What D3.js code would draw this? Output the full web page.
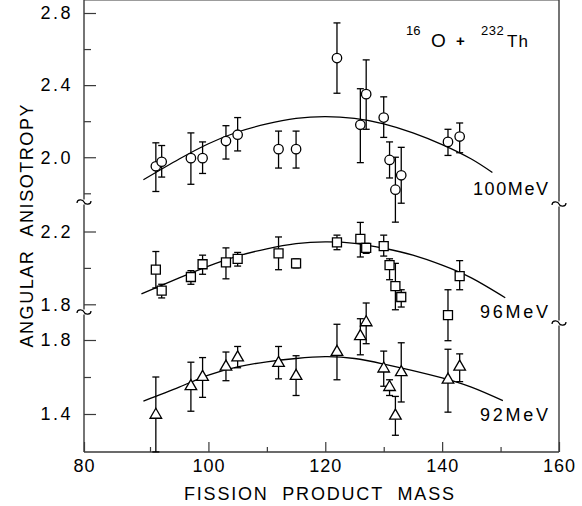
<!DOCTYPE html>
<html>
<head>
<meta charset="utf-8">
<script src="https://cdn.jsdelivr.net/npm/d3@7"></script>
<style>
body { margin: 0; background: #fff; }
text { font-family: "Liberation Sans", Arial, sans-serif; fill: #000; }
</style>
</head>
<body>
<script>
var w = 582, h = 506;

// x ticks
var xMajor = [80, 100, 120, 140, 160];
var xMinor = [90, 110, 130, 150];

// 100 MeV (circles)
var mass100 = [91, 92, 97, 99, 103, 105, 112, 115, 122, 126, 127, 130, 131, 132, 133, 141, 143];
var val100 = [1.95, 1.975, 1.995, 1.995, 2.09, 2.125, 2.045, 2.045, 2.55, 2.18, 2.35, 2.22, 1.985, 1.82, 1.90, 2.085, 2.115];
var lo100 = [1.81, 1.89, 1.85, 1.91, 1.99, 2.035, 1.94, 1.94, 2.355, 1.97, 2.155, 2.11, 1.885, 1.64, 1.745, 2.01, 2.025];
var hi100 = [2.08, 2.065, 2.135, 2.085, 2.175, 2.22, 2.145, 2.145, 2.745, 2.38, 2.54, 2.335, 2.085, 2.0, 2.055, 2.155, 2.19];
var curveMass100 = [89, 95, 100, 105, 110, 115, 120, 125, 130, 135, 140, 145, 148.6];
var curveVal100 = [1.875, 1.99, 2.075, 2.14, 2.185, 2.215, 2.225, 2.215, 2.185, 2.135, 2.07, 1.99, 1.915];

// 96 MeV (squares)
var mass96 = [91, 92, 97, 99, 103, 105, 112, 115, 122, 126, 127, 130, 131, 132, 133, 141, 143];
var val96 = [1.99, 1.875, 1.95, 2.02, 2.03, 2.05, 2.08, 2.025, 2.14, 2.16, 2.11, 2.12, 2.015, 1.90, 1.84, 1.74, 1.955];
var lo96 = [1.89, 1.835, 1.91, 1.965, 1.94, 2.01, 1.99, 2.0, 2.10, 2.06, 2.08, 2.065, 1.935, 1.77, 1.785, 1.60, 1.88];
var hi96 = [2.09, 1.91, 1.985, 2.07, 2.11, 2.085, 2.17, 2.05, 2.18, 2.25, 2.135, 2.18, 2.05, 2.025, 1.88, 1.88, 2.04];
var curveMass96 = [88.7, 95, 100, 105, 110, 115, 120, 125, 130, 135, 140, 145, 150.8];
var curveVal96 = [1.857, 1.945, 2.01, 2.065, 2.105, 2.133, 2.143, 2.135, 2.108, 2.07, 2.015, 1.945, 1.836];

// 92 MeV (triangles)
var mass92 = [91, 97, 99, 103, 105, 112, 115, 122, 126, 127, 130, 131, 132, 133, 141, 143];
var val92 = [1.395, 1.55, 1.60, 1.655, 1.705, 1.675, 1.605, 1.735, 1.82, 1.895, 1.645, 1.545, 1.39, 1.625, 1.585, 1.655];
var lo92 = [1.195, 1.415, 1.49, 1.58, 1.65, 1.59, 1.50, 1.585, 1.72, 1.78, 1.55, 1.50, 1.285, 1.465, 1.41, 1.575];
var hi92 = [1.60, 1.68, 1.705, 1.735, 1.765, 1.765, 1.715, 1.885, 1.915, 2.0, 1.74, 1.585, 1.495, 1.785, 1.75, 1.725];
var curveMass92 = [89, 95, 100, 105, 110, 115, 120, 125, 130, 135, 140, 145, 150.4];
var curveVal92 = [1.47, 1.545, 1.61, 1.655, 1.682, 1.70, 1.71, 1.70, 1.67, 1.635, 1.595, 1.545, 1.472];

var svg = d3.select("body").append("svg")
  .attr("width", w)
  .attr("height", h);

var x = d3.scaleLinear().domain([80, 90, 160]).range([84, 150, 559]);
var yTop = d3.scaleLinear().domain([2.8, 1.8]).range([13, 193.3]);
var yMid = d3.scaleLinear().domain([2.2, 1.8]).range([231.5, 304.3]);
var yBot = d3.scaleLinear().domain([1.8, 1.4]).range([340, 414]);

var left = x(80), right = x(160), top = yTop(2.8), bottom = 452;
var axisColor = "#3a3a3a";

// frame, with gaps where the axis is broken
function vseg(xx, y0, y1) {
  svg.append("line").attr("x1", xx).attr("x2", xx).attr("y1", y0).attr("y2", y1)
    .attr("stroke", axisColor).attr("stroke-width", 1.4);
}
vseg(left, top, 199.5); vseg(left, 204.5, 309.5); vseg(left, 314.5, bottom);
vseg(right, top, 201.5); vseg(right, 206.5, 320.5); vseg(right, 325.5, bottom);
svg.append("line").attr("x1", left).attr("x2", right).attr("y1", top).attr("y2", top)
  .attr("stroke", axisColor).attr("stroke-width", 1.2);
svg.append("line").attr("x1", left).attr("x2", right).attr("y1", bottom).attr("y2", bottom)
  .attr("stroke", axisColor).attr("stroke-width", 1.4);

function squiggle(cx, cy) {
  svg.append("path")
    .attr("d", "M" + (cx - 7) + "," + (cy + 1) +
      " C" + (cx - 7) + "," + (cy - 3) + " " + (cx - 1) + "," + (cy - 3) + " " + cx + "," + cy +
      " C" + (cx + 1) + "," + (cy + 3) + " " + (cx + 7) + "," + (cy + 3) + " " + (cx + 7) + "," + (cy - 1))
    .attr("fill", "none").attr("stroke", "#000").attr("stroke-width", 1.2);
}
squiggle(left, 202); squiggle(left, 312);
squiggle(right, 204); squiggle(right, 323);

// y axes (ticks point inward)
function yAxis(scale, major, minor) {
  var g = svg.append("g").attr("transform", "translate(" + left + ",0)")
    .call(d3.axisLeft(scale).tickValues(major).tickSizeInner(-12).tickSizeOuter(0)
      .tickPadding(11).tickFormat(d3.format(".1f")));
  g.select(".domain").remove();
  g.attr("font-size", 18).attr("font-family", null);
  g.selectAll("line").attr("stroke", axisColor).attr("stroke-width", 1.2);
  g.selectAll("text").attr("letter-spacing", 2.5);
  var m = svg.append("g").attr("transform", "translate(" + left + ",0)")
    .call(d3.axisLeft(scale).tickValues(minor).tickSizeInner(-7).tickSizeOuter(0).tickFormat(""));
  m.select(".domain").remove();
  m.selectAll("line").attr("stroke", axisColor).attr("stroke-width", 1.2);
}
yAxis(yTop, [2.8, 2.4, 2.0], [2.6, 2.2, 1.8]);
yAxis(yMid, [2.2, 1.8], [2.0]);
yAxis(yBot, [1.8, 1.4], [1.6]);

// x axis
var gx = svg.append("g").attr("transform", "translate(0," + bottom + ")")
  .call(d3.axisBottom(x).tickValues(xMajor).tickSizeInner(-10).tickSizeOuter(0).tickPadding(7)
    .tickFormat(d3.format("d")));
gx.select(".domain").remove();
gx.attr("font-size", 18).attr("font-family", null);
gx.selectAll("line").attr("stroke", axisColor).attr("stroke-width", 1.2);
gx.selectAll("text").attr("letter-spacing", 1);
var gxm = svg.append("g").attr("transform", "translate(0," + bottom + ")")
  .call(d3.axisBottom(x).tickValues(xMinor).tickSizeInner(-5).tickSizeOuter(0).tickFormat(""));
gxm.select(".domain").remove();
gxm.selectAll("line").attr("stroke", axisColor).attr("stroke-width", 1.2);

// series
function drawSeries(mass, val, lo, hi, cm, cv, y, symbol, size) {
  var line = d3.line().x(function(d) { return x(d[0]); }).y(function(d) { return y(d[1]); })
    .curve(d3.curveNatural);
  svg.append("path")
    .datum(d3.zip(cm, cv))
    .attr("d", line)
    .attr("fill", "none").attr("stroke", "#000").attr("stroke-width", 1.3);

  var data = mass.map(function(m, i) { return {m: m, v: val[i], lo: lo[i], hi: hi[i]}; });
  var eb = svg.append("g").attr("stroke", "#000").attr("stroke-width", 1.3);
  data.forEach(function(d) {
    var px = x(d.m);
    eb.append("line").attr("x1", px).attr("x2", px).attr("y1", y(d.hi)).attr("y2", y(d.lo));
    eb.append("line").attr("x1", px - 3.5).attr("x2", px + 3.5).attr("y1", y(d.hi)).attr("y2", y(d.hi));
    eb.append("line").attr("x1", px - 3.5).attr("x2", px + 3.5).attr("y1", y(d.lo)).attr("y2", y(d.lo));
  });
  svg.append("g").selectAll("path").data(data).enter().append("path")
    .attr("transform", function(d) { return "translate(" + x(d.m) + "," + y(d.v) + ")"; })
    .attr("d", d3.symbol().type(symbol).size(size))
    .attr("fill", "#fff").attr("stroke", "#000").attr("stroke-width", 1.3);
}
drawSeries(mass100, val100, lo100, hi100, curveMass100, curveVal100, yTop, d3.symbolCircle, 70);
drawSeries(mass96, val96, lo96, hi96, curveMass96, curveVal96, yMid, d3.symbolSquare, 81);
drawSeries(mass92, val92, lo92, hi92, curveMass92, curveVal92, yBot, d3.symbolTriangle, 58);

// series labels
function label(txt, xx, yy, len) {
  svg.append("text").attr("x", xx).attr("y", yy).attr("font-size", 18)
    .attr("textLength", len).attr("lengthAdjust", "spacing").text(txt);
}
label("100MeV", 473, 195, 75);
label("96MeV", 480, 318, 68);
label("92MeV", 480, 421, 68);

// reaction title
svg.append("text").attr("x", 406).attr("y", 35).attr("font-size", 13).text("16");
svg.append("text").attr("x", 431).attr("y", 47).attr("font-size", 19).text("O");
svg.append("text").attr("x", 456).attr("y", 46).attr("font-size", 15).attr("font-weight", "bold").text("+");
svg.append("text").attr("x", 481).attr("y", 35).attr("font-size", 13).attr("letter-spacing", 0.5).text("232");
svg.append("text").attr("x", 507).attr("y", 47).attr("font-size", 17).attr("letter-spacing", 1).text("Th");

// axis titles
svg.append("text")
  .attr("transform", "translate(33,226) rotate(-90)")
  .attr("text-anchor", "middle").attr("font-size", 18)
  .attr("textLength", 243).attr("lengthAdjust", "spacing")
  .text("ANGULAR\u00a0\u00a0ANISOTROPY");
svg.append("text")
  .attr("x", 319).attr("y", 500)
  .attr("text-anchor", "middle").attr("font-size", 18)
  .attr("textLength", 270).attr("lengthAdjust", "spacing")
  .text("FISSION\u00a0\u00a0PRODUCT\u00a0\u00a0MASS");
</script>
</body>
</html>
